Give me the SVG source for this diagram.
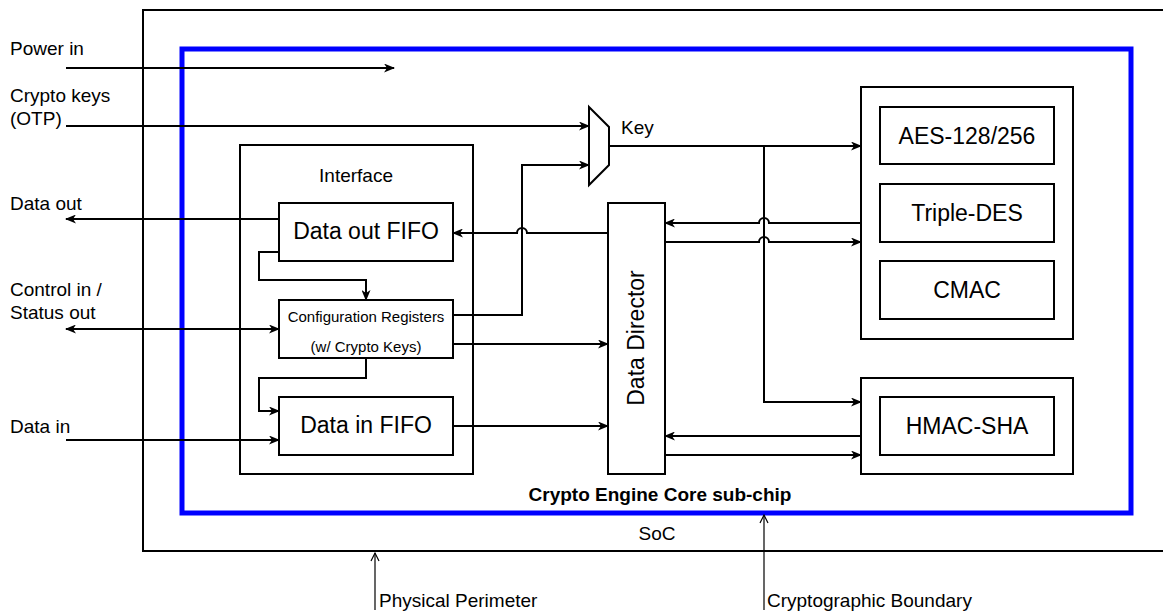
<svg xmlns="http://www.w3.org/2000/svg" width="1163" height="614" viewBox="0 0 1163 614">
<style>
.box{fill:#fff;stroke:#000;stroke-width:2}
.ln{fill:none;stroke:#000;stroke-width:2}
.arr{marker-end:url(#ah)}
.thin{fill:none;stroke:#000;stroke-width:1.2}
text{font-family:"Liberation Sans",Arial,sans-serif;fill:#000}
.t19{font-size:19px}
.t23{font-size:23px;text-anchor:middle}
.t15{font-size:15px;text-anchor:middle}
</style>
<defs>
<marker id="ah" viewBox="0 0 11 9" refX="10" refY="4.5" markerWidth="11" markerHeight="9" markerUnits="userSpaceOnUse" orient="auto-start-reverse">
<path d="M0,0 L11,4.5 L0,9 L3,4.5 Z" fill="#000"/>
</marker>
</defs>
<rect width="1163" height="614" fill="#fff"/>
<g id="soc">
<path d="M1170,10 H143 V551 H1170" class="ln"/>
<text x="657" y="540" class="t19" text-anchor="middle">SoC</text>
</g>
<g id="core">
<rect x="182" y="49" width="949" height="464" fill="none" stroke="#0000FF" stroke-width="5"/>
<text x="660" y="501" font-size="19" font-weight="bold" text-anchor="middle">Crypto Engine Core sub-chip</text>
</g>
<g id="interface">
<rect x="240" y="145" width="233" height="329" class="box"/>
<text x="356" y="182" class="t19" text-anchor="middle">Interface</text>
</g>
<g id="data-out-fifo">
<rect x="279" y="203" width="174" height="58" class="box"/>
<text x="366" y="239" class="t23">Data out FIFO</text>
</g>
<g id="config-registers">
<rect x="279" y="300" width="174" height="58" class="box"/>
<text x="366" y="322" class="t15">Configuration Registers</text>
<text x="366" y="352" class="t15">(w/ Crypto Keys)</text>
</g>
<g id="data-in-fifo">
<rect x="279" y="397" width="174" height="58" class="box"/>
<text x="366" y="433" class="t23">Data in FIFO</text>
</g>
<g id="data-director">
<rect x="608" y="203" width="57" height="271" class="box"/>
<text x="636" y="346" class="t23" transform="rotate(-90 636 338)">Data Director</text>
</g>
<g id="mux">
<path d="M589,107 L609,127 L609,165 L589,185 Z" class="box"/>
<text x="621" y="134" class="t19">Key</text>
</g>
<g id="cipher-group">
<rect x="861" y="87" width="212" height="252" class="box"/>
</g>
<g id="aes">
<rect x="880" y="107" width="174" height="57" class="box"/>
<text x="967" y="144" class="t23">AES-128/256</text>
</g>
<g id="triple-des">
<rect x="880" y="184" width="174" height="58" class="box"/>
<text x="967" y="221" class="t23">Triple-DES</text>
</g>
<g id="cmac">
<rect x="880" y="261" width="174" height="58" class="box"/>
<text x="967" y="298" class="t23">CMAC</text>
</g>
<g id="hmac-group">
<rect x="861" y="378" width="212" height="96" class="box"/>
</g>
<g id="hmac-sha">
<rect x="880" y="397" width="174" height="58" class="box"/>
<text x="967" y="434" class="t23">HMAC-SHA</text>
</g>
<g id="labels">
<text x="10" y="55" class="t19">Power in</text>
<text x="10" y="102" class="t19">Crypto keys</text>
<text x="10" y="125" class="t19">(OTP)</text>
<text x="10" y="210" class="t19">Data out</text>
<text x="10" y="296" class="t19">Control in /</text>
<text x="10" y="319" class="t19">Status out</text>
<text x="10" y="433" class="t19">Data in</text>
<text x="379" y="607" class="t19">Physical Perimeter</text>
<text x="767" y="607" class="t19">Cryptographic Boundary</text>
</g>
<g id="connectors">
<path d="M66,68 H394" class="ln arr"/>
<path d="M66,126 H589" class="ln arr"/>
<path d="M279,219 H66" class="ln arr"/>
<path d="M66,329 H279" class="ln arr" marker-start="url(#ah)"/>
<path d="M66,440 H279" class="ln arr"/>
<path d="M279,252 H259 V280 H366 V300" class="ln arr"/>
<path d="M366,358 V378 H259 V411 H279" class="ln arr"/>
<path d="M453,315 H522 V165 H589" class="ln arr"/>
<path d="M453,344 H608" class="ln arr"/>
<path d="M453,426 H608" class="ln arr"/>
<path d="M608,233 H527 A5,5 0 0 0 517,233 H453" class="ln arr"/>
<path d="M609,146 H861" class="ln arr"/>
<path d="M764,146 V402 H861" class="ln arr"/>
<path d="M861,223 H769 A5,5 0 0 0 759,223 H665" class="ln arr"/>
<path d="M665,242 H759 A5,5 0 0 1 769,242 H861" class="ln arr"/>
<path d="M861,436 H665" class="ln arr"/>
<path d="M665,455 H861" class="ln arr"/>
<path d="M375,610 V553" class="thin"/>
<path d="M371,561 L375,553 L379,561" class="thin"/>
<path d="M764,610 V515" class="thin"/>
<path d="M760,523 L764,515 L768,523" class="thin"/>
</g>
</svg>
